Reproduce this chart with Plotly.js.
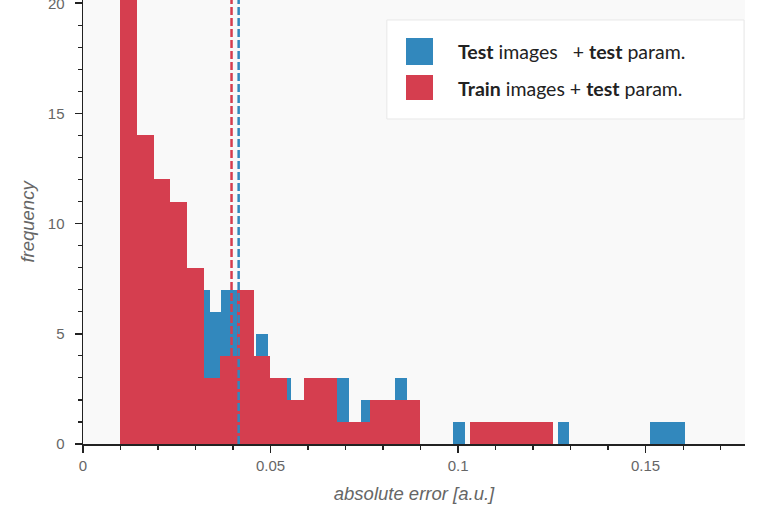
<!DOCTYPE html>
<html>
<head>
<meta charset="utf-8">
<script src="https://cdn.plot.ly/plotly-3.0.1.min.js"></script>
<style>html,body{margin:0;padding:0;background:#fff;}#chart{width:757px;height:514px;}</style>
</head>
<body>
<div id="chart"></div>
<script>
// ---- data ----
// Train images + test param. (red histogram)
const trainBinStart = 0.00997;
const trainBinWidth = 0.00444;
const trainCounts = [22, 14, 12, 11, 8, 3, 4, 7, 4, 3, 2, 3, 3, 1, 1, 2, 2, 2, 0, 0, 0, 1, 1, 1, 1, 1];
// Test images + test param. (blue histogram)
const testBinStart = 0.0122;
const testBinWidth = 0.00309;
const testCounts = [12, 13, 11, 10, 9, 6, 7, 6, 7, 7, 4, 5, 3, 3, 2, 2, 2, 3, 3, 1,
                    2, 2, 1, 3, 1, 0, 0, 0, 1, 0, 0, 1, 0, 1, 0, 0, 0, 1, 0, 0,
                    0, 0, 0, 0, 0, 1, 1, 1];
// mean absolute errors (dashed lines)
const testMean = 0.0415;
const trainMean = 0.0396;
const seriesNames = ["<b>Test</b> images\u00a0\u00a0\u00a0+ <b>test</b> param.", "<b>Train</b> images + <b>test</b> param."];
const xTicks = [0, 0.05, 0.1, 0.15];
const xTickLabels = ["0", "0.05", "0.1", "0.15"];
const yTicks = [0, 5, 10, 15, 20];

const BLUE = "#3288bd", RED = "#d53e4f";
const SANS = "'Liberation Sans', Arial, sans-serif";

function binCenters(start, width, n) {
  const c = [];
  for (let i = 0; i < n; i++) c.push(start + (i + 0.5) * width);
  return c;
}

const traces = [
  {
    type: "bar", name: "test",
    x: binCenters(testBinStart, testBinWidth, testCounts.length),
    y: testCounts, width: testBinWidth,
    marker: {color: BLUE, line: {width: 0}},
    showlegend: false, hoverinfo: "skip"
  },
  {
    type: "bar", name: "train",
    x: binCenters(trainBinStart, trainBinWidth, trainCounts.length),
    y: trainCounts, width: trainBinWidth,
    marker: {color: RED, line: {width: 0}},
    showlegend: false, hoverinfo: "skip"
  }
];

const shapes = [
  {type: "line", xref: "x", yref: "paper", x0: trainMean, x1: trainMean, y0: 0, y1: 1,
   line: {color: RED, width: 2.5, dash: "8px,3px"}, layer: "above"},
  {type: "line", xref: "x", yref: "paper", x0: testMean, x1: testMean, y0: 0, y1: 1,
   line: {color: BLUE, width: 2.5, dash: "8px,3px"}, layer: "above"},
  // legend box
  {type: "rect", xref: "paper", yref: "paper", x0: 0.459, x1: 0.9985, y0: 0.732, y1: 0.955,
   fillcolor: "#ffffff", line: {color: "#e8e8e8", width: 1}, layer: "above"},
  {type: "rect", xref: "paper", yref: "paper", x0: 0.4879, x1: 0.5287, y0: 0.8536, y1: 0.9144,
   fillcolor: BLUE, line: {width: 0}, layer: "above"},
  {type: "rect", xref: "paper", yref: "paper", x0: 0.4879, x1: 0.5287, y0: 0.7748, y1: 0.8311,
   fillcolor: RED, line: {width: 0}, layer: "above"}
];

const annotations = [
  {xref: "paper", yref: "paper", x: 0.5634, y: 0.885, xanchor: "left", yanchor: "middle",
   text: seriesNames[0], showarrow: false, font: {family: "Lato, sans-serif", size: 19.5, color: "#222"}},
  {xref: "paper", yref: "paper", x: 0.5634, y: 0.8018, xanchor: "left", yanchor: "middle",
   text: seriesNames[1], showarrow: false, font: {family: "Lato, sans-serif", size: 19.5, color: "#222"}},
  // top tick label, which sits half outside the figure (as in the reference)
  {xref: "paper", yref: "y", x: 0, y: yTicks[yTicks.length - 1], xanchor: "right", yanchor: "middle",
   xshift: -16, text: String(yTicks[yTicks.length - 1]), showarrow: false,
   font: {family: SANS, size: 15, color: "#666"}}
];

const layout = {
  width: 757, height: 514,
  margin: {l: 83, r: 12, t: 0, b: 70},
  paper_bgcolor: "#ffffff",
  plot_bgcolor: "#f9f9f9",
  barmode: "overlay", bargap: 0,
  font: {family: SANS, size: 15, color: "#666"},
  xaxis: {
    range: [0, 0.1765],
    tickvals: xTicks, ticktext: xTickLabels,
    ticks: "outside", ticklen: 7, tickwidth: 1.5, tickcolor: "#222",
    minor: {dtick: 0.01, tick0: 0, ticks: "outside", ticklen: 4, tickwidth: 1.2, tickcolor: "#222"},
    showline: true, linecolor: "#222", linewidth: 1.5,
    showgrid: false, zeroline: false,
    tickfont: {family: SANS, size: 15, color: "#666"},
    title: {text: "absolute error [a.u.]", font: {family: SANS, size: 18.5, color: "#666", style: "italic"}, standoff: 14}
  },
  yaxis: {
    range: [0, 20.14],
    tickvals: yTicks,
    ticks: "outside", ticklen: 7, tickwidth: 1.5, tickcolor: "#222",
    ticklabelstandoff: 7,
    minor: {dtick: 1, tick0: 0, ticks: "outside", ticklen: 4, tickwidth: 1.2, tickcolor: "#222"},
    showline: true, linecolor: "#222", linewidth: 1.5,
    showgrid: false, zeroline: false,
    tickfont: {family: SANS, size: 15, color: "#666"},
    title: {text: "frequency", font: {family: SANS, size: 18.5, color: "#666", style: "italic"}, standoff: 8}
  },
  shapes: shapes,
  annotations: annotations,
  showlegend: false
};

Plotly.newPlot("chart", traces, layout, {displayModeBar: false, staticPlot: true});
</script>
</body>
</html>
